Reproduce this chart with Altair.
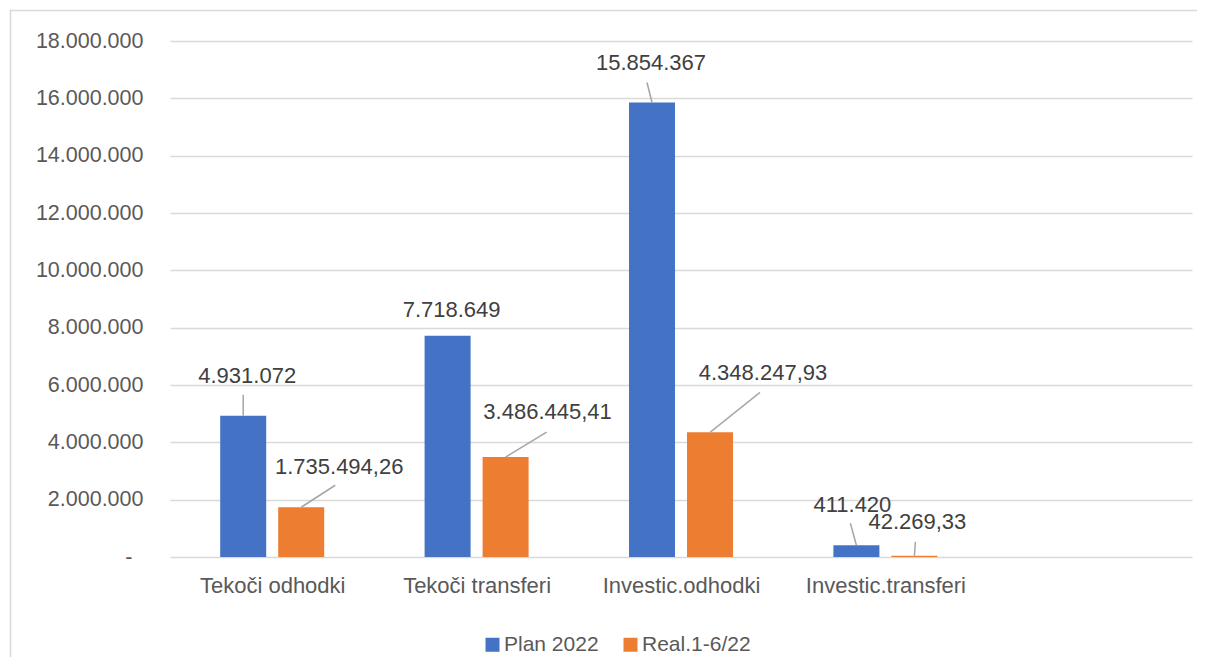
import json
import altair as alt
import pandas as pd

# ---------------- data ----------------
categories = ["Tekoči odhodki", "Tekoči transferi", "Investic.odhodki", "Investic.transferi"]
series = ["Plan 2022", "Real.1-6/22"]
plan_2022 = [4931072, 7718649, 15854367, 411420]
real_1_6_22 = [1735494.26, 3486445.41, 4348247.93, 42269.33]
y_ticks = [0, 2000000, 4000000, 6000000, 8000000, 10000000, 12000000, 14000000, 16000000, 18000000]

# ---------------- layout / style ----------------
N_SLOTS = 5            # Excel axis keeps an empty fifth category slot
W, H = 1022, 516
Y_MAX = 18000000
BAR_W_PX = 46
BAR_SHIFT_PX = 29
COLORS = ["#4472C4", "#ED7D31"]
FONT = "Liberation Sans"

# label placement (px, relative to bar-top centre): label dx, dy, leader end dx, dy
plan_label_offsets = [(4, -40, 0, -21), (4, -26, None, None), (-1, -40, -5, -20), (-4, -40, -6, -22)]
real_label_offsets = [(38, -40, 34, -22), (42, -45, 41, -25), (53, -59, 50, -40), (3, -34, 1, -14)]

ux = N_SLOTS / W
uy = Y_MAX / H


def de_fmt(v, decimals):
    s = f"{v:,.{decimals}f}"
    return s.replace(",", "X").replace(".", ",").replace("X", ".")


rows, labels, leaders = [], [], []
for s_idx, (name, vals, offs, dec) in enumerate(
    [(series[0], plan_2022, plan_label_offsets, 0), (series[1], real_1_6_22, real_label_offsets, 2)]
):
    sign = -1 if s_idx == 0 else 1
    for i, cat in enumerate(categories):
        v = vals[i]
        c = i + 0.5 + sign * BAR_SHIFT_PX * ux
        rows.append({"series": name, "category": cat, "x0": c - BAR_W_PX / 2 * ux,
                     "x1": c + BAR_W_PX / 2 * ux, "value": v, "base": 0})
        dx, dy, lx, ly = offs[i]
        labels.append({"series": name, "lx": c + dx * ux, "ly": v - dy * uy, "text": de_fmt(v, dec)})
        if lx is not None:
            leaders.append({"series": name, "ax": c, "ay": v, "bx": c + lx * ux, "by": v - ly * uy})

bars_df = pd.DataFrame(rows)
labels_df = pd.DataFrame(labels)
leaders_df = pd.DataFrame(leaders)

x_scale = alt.Scale(domain=[0, N_SLOTS], nice=False, zero=False, padding=0)
y_scale = alt.Scale(domain=[0, Y_MAX], nice=False, padding=0)

cat_array = json.dumps(categories, ensure_ascii=False)

frame = alt.Chart(pd.DataFrame({"k": [0]})).mark_rect(
    fillOpacity=0, stroke="#d9d9d9", strokeWidth=1.5
).encode(
    x=alt.value(-159.5), x2=alt.value(W + 300), y=alt.value(-30.5), y2=alt.value(H + 300)
)

bars = alt.Chart(bars_df).mark_rect().encode(
    x=alt.X("x0:Q", scale=x_scale,
            axis=alt.Axis(values=[0.5, 1.5, 2.5, 3.5], labelExpr=f"{cat_array}[floor(datum.value)]",
                          title=None, grid=False, ticks=False, domain=False,
                          labelFont=FONT, labelFontSize=22, labelColor="#595959",
                          labelPadding=18, labelAngle=0)),
    x2="x1:Q",
    y=alt.Y("value:Q", scale=y_scale,
            axis=alt.Axis(values=y_ticks, title=None, ticks=False, domain=False,
                          labelExpr="datum.value == 0 ? '-' : replace(format(datum.value, ',.0f'), /,/g, '.')",
                          labelFont=FONT, labelFontSize=21.5, labelColor="#595959",
                          labelPadding={"condition": {"test": "datum.value == 0", "value": 38}, "value": 27},
                          grid=True, gridColor="#d9d9d9", gridWidth=1.5)),
    y2="base:Q",
    color=alt.Color("series:N", scale=alt.Scale(domain=series, range=COLORS),
                    legend=alt.Legend(title=None, orient="none", legendX=312, legendY=593,
                                      direction="horizontal", symbolType="square", symbolSize=196,
                                      symbolStrokeWidth=0, labelFont=FONT, labelFontSize=21,
                                      labelColor="#595959", columnPadding=21, labelOffset=1,
                                      padding=0)),
)

leader_lines = alt.Chart(leaders_df).mark_rule(color="#a6a6a6", strokeWidth=1.5).encode(
    x=alt.X("ax:Q", scale=x_scale), x2="bx:Q",
    y=alt.Y("ay:Q", scale=y_scale), y2="by:Q",
)

texts = alt.Chart(labels_df).mark_text(
    font=FONT, fontSize=22, color="#404040", align="center", baseline="middle"
).encode(
    x=alt.X("lx:Q", scale=x_scale),
    y=alt.Y("ly:Q", scale=y_scale),
    text="text:N",
)

chart = alt.layer(frame, bars, leader_lines, texts).properties(
    width=W, height=H,
    autosize=alt.AutoSizeParams(type="none"),
    padding={"left": 162, "top": 33, "right": 5, "bottom": 100},
    background="white",
).configure_view(stroke=None)

chart.save("out.html", embed_options={"renderer": "svg", "actions": False})
